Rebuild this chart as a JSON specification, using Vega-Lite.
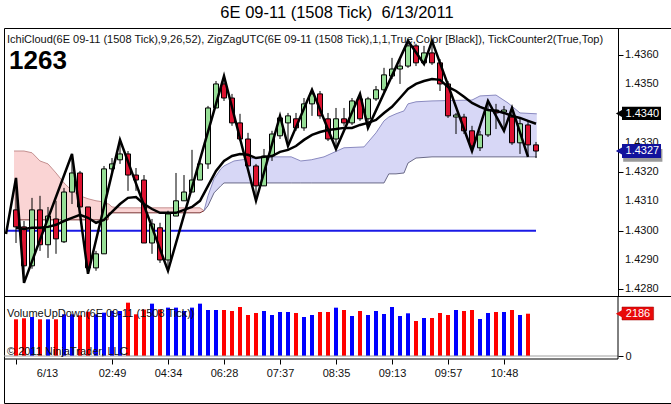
{
  "$schema": "https://vega.github.io/schema/vega-lite/v6.json",
  "padding": {"left": 0, "top": 5, "right": 0, "bottom": 0},
  "background": "white",
  "title": {
    "text": "6E 09-11 (1508 Tick)\u00a0 6/13/2011",
    "fontSize": 16.5,
    "fontWeight": "normal",
    "font": "Liberation Sans",
    "color": "black",
    "anchor": "middle",
    "offset": 6
  },
  "config": {
    "view": {"stroke": "black", "strokeWidth": 1},
    "axis": {"labelFont": "Liberation Sans", "labelColor": "#111", "tickColor": "black", "domainColor": "black", "labelOverlap": false},
    "text": {"font": "Liberation Sans"}
  },
  "spacing": 0,
  "bounds": "flush",
  "resolve": {"scale": {"x": "independent", "y": "independent"}},
  "datasets": {
    "candles": [
      {"i": 0, "o": 1.43071, "h": 1.43180, "l": 1.42958, "c": 1.43013, "v": 1897, "t": 1.43010},
      {"i": 1, "o": 1.43013, "h": 1.43033, "l": 1.42822, "c": 1.42880, "v": 1950, "t": 1.43006},
      {"i": 2, "o": 1.42880, "h": 1.43112, "l": 1.42870, "c": 1.43071, "v": 2015, "t": 1.43010},
      {"i": 3, "o": 1.43071, "h": 1.43119, "l": 1.42931, "c": 1.42952, "v": 1897, "t": 1.43010},
      {"i": 4, "o": 1.42952, "h": 1.43081, "l": 1.42907, "c": 1.43050, "v": 1897, "t": 1.43013},
      {"i": 5, "o": 1.43040, "h": 1.43102, "l": 1.42921, "c": 1.42972, "v": 1897, "t": 1.43020},
      {"i": 6, "o": 1.42962, "h": 1.43146, "l": 1.42958, "c": 1.43132, "v": 2155, "t": 1.43033},
      {"i": 7, "o": 1.43132, "h": 1.43262, "l": 1.43091, "c": 1.43197, "v": 2155, "t": 1.43044},
      {"i": 8, "o": 1.43197, "h": 1.43204, "l": 1.43081, "c": 1.43081, "v": 2103, "t": 1.43054},
      {"i": 9, "o": 1.43081, "h": 1.43081, "l": 1.42853, "c": 1.42873, "v": 2290, "t": 1.43044},
      {"i": 10, "o": 1.42873, "h": 1.42931, "l": 1.42863, "c": 1.42921, "v": 2155, "t": 1.43027},
      {"i": 11, "o": 1.42921, "h": 1.43221, "l": 1.42921, "c": 1.43211, "v": 2240, "t": 1.43037},
      {"i": 12, "o": 1.43211, "h": 1.43248, "l": 1.43197, "c": 1.43228, "v": 2326, "t": 1.43064},
      {"i": 13, "o": 1.43242, "h": 1.43310, "l": 1.43228, "c": 1.43262, "v": 2326, "t": 1.43091},
      {"i": 14, "o": 1.43262, "h": 1.43272, "l": 1.43136, "c": 1.43190, "v": 2756, "t": 1.43112},
      {"i": 15, "o": 1.43190, "h": 1.43214, "l": 1.43136, "c": 1.43173, "v": 2155, "t": 1.43115},
      {"i": 16, "o": 1.43173, "h": 1.43190, "l": 1.42958, "c": 1.42958, "v": 2400, "t": 1.43091},
      {"i": 17, "o": 1.42958, "h": 1.43040, "l": 1.42921, "c": 1.43023, "v": 2705, "t": 1.43074},
      {"i": 18, "o": 1.43010, "h": 1.43027, "l": 1.42890, "c": 1.42900, "v": 2410, "t": 1.43061},
      {"i": 19, "o": 1.42900, "h": 1.43068, "l": 1.42863, "c": 1.43057, "v": 2500, "t": 1.43061},
      {"i": 20, "o": 1.43050, "h": 1.43197, "l": 1.43050, "c": 1.43102, "v": 2500, "t": 1.43061},
      {"i": 21, "o": 1.43102, "h": 1.43190, "l": 1.43102, "c": 1.43132, "v": 2326, "t": 1.43071},
      {"i": 22, "o": 1.43132, "h": 1.43276, "l": 1.43132, "c": 1.43173, "v": 2500, "t": 1.43081},
      {"i": 23, "o": 1.43173, "h": 1.43248, "l": 1.43173, "c": 1.43228, "v": 2705, "t": 1.43102},
      {"i": 24, "o": 1.43228, "h": 1.43426, "l": 1.43211, "c": 1.43419, "v": 2378, "t": 1.43153},
      {"i": 25, "o": 1.43419, "h": 1.43511, "l": 1.43419, "c": 1.43501, "v": 2378, "t": 1.43204},
      {"i": 26, "o": 1.43501, "h": 1.43528, "l": 1.43443, "c": 1.43453, "v": 2378, "t": 1.43238},
      {"i": 27, "o": 1.43453, "h": 1.43467, "l": 1.43358, "c": 1.43368, "v": 2326, "t": 1.43255},
      {"i": 28, "o": 1.43368, "h": 1.43399, "l": 1.43306, "c": 1.43313, "v": 2533, "t": 1.43262},
      {"i": 29, "o": 1.43313, "h": 1.43334, "l": 1.43221, "c": 1.43221, "v": 2120, "t": 1.43259},
      {"i": 30, "o": 1.43221, "h": 1.43228, "l": 1.43102, "c": 1.43153, "v": 2223, "t": 1.43248},
      {"i": 31, "o": 1.43153, "h": 1.43279, "l": 1.43153, "c": 1.43255, "v": 2326, "t": 1.43252},
      {"i": 32, "o": 1.43255, "h": 1.43341, "l": 1.43238, "c": 1.43330, "v": 2120, "t": 1.43255},
      {"i": 33, "o": 1.43324, "h": 1.43392, "l": 1.43313, "c": 1.43385, "v": 2275, "t": 1.43269},
      {"i": 34, "o": 1.43368, "h": 1.43402, "l": 1.43289, "c": 1.43392, "v": 2275, "t": 1.43276},
      {"i": 35, "o": 1.43382, "h": 1.43402, "l": 1.43341, "c": 1.43351, "v": 2223, "t": 1.43289},
      {"i": 36, "o": 1.43351, "h": 1.43453, "l": 1.43341, "c": 1.43433, "v": 2017, "t": 1.43310},
      {"i": 37, "o": 1.43433, "h": 1.43481, "l": 1.43392, "c": 1.43467, "v": 2120, "t": 1.43327},
      {"i": 38, "o": 1.43467, "h": 1.43477, "l": 1.43382, "c": 1.43392, "v": 2275, "t": 1.43337},
      {"i": 39, "o": 1.43382, "h": 1.43402, "l": 1.43306, "c": 1.43313, "v": 2275, "t": 1.43344},
      {"i": 40, "o": 1.43313, "h": 1.43419, "l": 1.43279, "c": 1.43382, "v": 2498, "t": 1.43347},
      {"i": 41, "o": 1.43382, "h": 1.43419, "l": 1.43358, "c": 1.43368, "v": 2378, "t": 1.43351},
      {"i": 42, "o": 1.43368, "h": 1.43453, "l": 1.43361, "c": 1.43443, "v": 2068, "t": 1.43351},
      {"i": 43, "o": 1.43450, "h": 1.43467, "l": 1.43375, "c": 1.43382, "v": 2326, "t": 1.43361},
      {"i": 44, "o": 1.43382, "h": 1.43457, "l": 1.43351, "c": 1.43450, "v": 2120, "t": 1.43368},
      {"i": 45, "o": 1.43450, "h": 1.43494, "l": 1.43443, "c": 1.43481, "v": 2326, "t": 1.43378},
      {"i": 46, "o": 1.43481, "h": 1.43556, "l": 1.43470, "c": 1.43532, "v": 2171, "t": 1.43402},
      {"i": 47, "o": 1.43528, "h": 1.43590, "l": 1.43518, "c": 1.43552, "v": 2533, "t": 1.43423},
      {"i": 48, "o": 1.43552, "h": 1.43590, "l": 1.43501, "c": 1.43562, "v": 2068, "t": 1.43453},
      {"i": 49, "o": 1.43562, "h": 1.43648, "l": 1.43556, "c": 1.43631, "v": 2206, "t": 1.43484},
      {"i": 50, "o": 1.43631, "h": 1.43638, "l": 1.43562, "c": 1.43573, "v": 1810, "t": 1.43501},
      {"i": 51, "o": 1.43573, "h": 1.43631, "l": 1.43569, "c": 1.43607, "v": 1965, "t": 1.43511},
      {"i": 52, "o": 1.43607, "h": 1.43648, "l": 1.43566, "c": 1.43573, "v": 1965, "t": 1.43518},
      {"i": 53, "o": 1.43573, "h": 1.43586, "l": 1.43477, "c": 1.43501, "v": 2223, "t": 1.43515},
      {"i": 54, "o": 1.43501, "h": 1.43511, "l": 1.43385, "c": 1.43392, "v": 2120, "t": 1.43491},
      {"i": 55, "o": 1.43388, "h": 1.43402, "l": 1.43330, "c": 1.43395, "v": 2378, "t": 1.43477},
      {"i": 56, "o": 1.43388, "h": 1.43399, "l": 1.43330, "c": 1.43341, "v": 2326, "t": 1.43457},
      {"i": 57, "o": 1.43341, "h": 1.43358, "l": 1.43272, "c": 1.43289, "v": 2378, "t": 1.43436},
      {"i": 58, "o": 1.43283, "h": 1.43341, "l": 1.43272, "c": 1.43327, "v": 1913, "t": 1.43423},
      {"i": 59, "o": 1.43327, "h": 1.43443, "l": 1.43320, "c": 1.43412, "v": 2223, "t": 1.43412},
      {"i": 60, "o": 1.43412, "h": 1.43433, "l": 1.43347, "c": 1.43402, "v": 2275, "t": 1.43409},
      {"i": 61, "o": 1.43405, "h": 1.43426, "l": 1.43341, "c": 1.43412, "v": 2275, "t": 1.43402},
      {"i": 62, "o": 1.43388, "h": 1.43419, "l": 1.43293, "c": 1.43300, "v": 2378, "t": 1.43392},
      {"i": 63, "o": 1.43300, "h": 1.43385, "l": 1.43262, "c": 1.43365, "v": 2120, "t": 1.43385},
      {"i": 64, "o": 1.43361, "h": 1.43375, "l": 1.43252, "c": 1.43293, "v": 2186, "t": 1.43375},
      {"i": 65, "o": 1.43293, "h": 1.43303, "l": 1.43248, "c": 1.43272, "v": null, "t": 1.43365}
    ],
    "zigzag": [
      {"i": -1.25, "p": 1.42989},
      {"i": 0, "p": 1.43180},
      {"i": 1, "p": 1.42822},
      {"i": 7, "p": 1.43262},
      {"i": 9, "p": 1.42853},
      {"i": 13, "p": 1.43310},
      {"i": 19, "p": 1.42863},
      {"i": 26, "p": 1.43528},
      {"i": 30, "p": 1.43102},
      {"i": 33, "p": 1.43392},
      {"i": 34, "p": 1.43289},
      {"i": 37, "p": 1.43481},
      {"i": 40, "p": 1.43279},
      {"i": 43, "p": 1.43467},
      {"i": 44, "p": 1.43351},
      {"i": 49, "p": 1.43648},
      {"i": 51, "p": 1.43569},
      {"i": 52, "p": 1.43648},
      {"i": 57, "p": 1.43272},
      {"i": 59, "p": 1.43443},
      {"i": 61, "p": 1.43341},
      {"i": 62, "p": 1.43419},
      {"i": 64, "p": 1.43252}
    ],
    "pink": [
      {"i": -0.25, "a": 1.43272, "b": 1.43037},
      {"i": 1, "a": 1.43272, "b": 1.43037},
      {"i": 2, "a": 1.43266, "b": 1.43037},
      {"i": 3, "a": 1.43238, "b": 1.43037},
      {"i": 4, "a": 1.43228, "b": 1.43037},
      {"i": 5, "a": 1.43197, "b": 1.43037},
      {"i": 6, "a": 1.43163, "b": 1.43037},
      {"i": 7, "a": 1.43136, "b": 1.43037},
      {"i": 8, "a": 1.43119, "b": 1.43037},
      {"i": 9, "a": 1.43109, "b": 1.43037},
      {"i": 10, "a": 1.43102, "b": 1.43037},
      {"i": 11, "a": 1.43098, "b": 1.43037},
      {"i": 11.5, "a": 1.43091, "b": 1.43037},
      {"i": 11.6, "a": 1.43091, "b": 1.43061},
      {"i": 12, "a": 1.43081, "b": 1.43061},
      {"i": 13, "a": 1.43078, "b": 1.43061},
      {"i": 23, "a": 1.43078, "b": 1.43061},
      {"i": 23.5, "a": 1.43068, "b": 1.43068}
    ],
    "lavender": [
      {"i": 23.5, "a": 1.43068, "b": 1.43068},
      {"i": 24, "a": 1.43119, "b": 1.43085},
      {"i": 24.75, "a": 1.43177, "b": 1.43129},
      {"i": 25.6, "a": 1.43211, "b": 1.43153},
      {"i": 26, "a": 1.43221, "b": 1.43163},
      {"i": 27.25, "a": 1.43238, "b": 1.43163},
      {"i": 29.75, "a": 1.43248, "b": 1.43163},
      {"i": 31, "a": 1.43252, "b": 1.43163},
      {"i": 34.4, "a": 1.43252, "b": 1.43163},
      {"i": 35.6, "a": 1.43238, "b": 1.43163},
      {"i": 36.9, "a": 1.43242, "b": 1.43163},
      {"i": 38.5, "a": 1.43252, "b": 1.43163},
      {"i": 41, "a": 1.43283, "b": 1.43163},
      {"i": 43.5, "a": 1.43286, "b": 1.43163},
      {"i": 45, "a": 1.43334, "b": 1.43163},
      {"i": 46, "a": 1.43375, "b": 1.43163},
      {"i": 46.6, "a": 1.43388, "b": 1.43194},
      {"i": 47.5, "a": 1.43399, "b": 1.43194},
      {"i": 48.5, "a": 1.43409, "b": 1.43197},
      {"i": 49, "a": 1.43433, "b": 1.43231},
      {"i": 50, "a": 1.43440, "b": 1.43248},
      {"i": 52, "a": 1.43443, "b": 1.43252},
      {"i": 57, "a": 1.43446, "b": 1.43252},
      {"i": 58, "a": 1.43460, "b": 1.43252},
      {"i": 60, "a": 1.43463, "b": 1.43252},
      {"i": 61.5, "a": 1.43436, "b": 1.43252},
      {"i": 63, "a": 1.43402, "b": 1.43252},
      {"i": 65.1, "a": 1.43399, "b": 1.43252}
    ],
    "priceTicks": [
      {"p": 1.428, "label": "1.4280"},
      {"p": 1.429, "label": "1.4290"},
      {"p": 1.430, "label": "1.4300"},
      {"p": 1.431, "label": "1.4310"},
      {"p": 1.432, "label": "1.4320"},
      {"p": 1.433, "label": "1.4330"},
      {"p": 1.435, "label": "1.4350"},
      {"p": 1.436, "label": "1.4360"}
    ]
  },
  "vconcat": [
    {
      "width": 669,
      "height": 268,
      "layer": [
        {
          "data": {"name": "pink"},
          "mark": {"type": "area", "color": "#fad4d4", "orient": "vertical"},
          "encoding": {
            "x": {"field": "i", "type": "quantitative", "scale": {"domain": [-0.875, 81.5], "nice": false, "zero": false}, "axis": null},
            "y": {
              "field": "a", "type": "quantitative",
              "scale": {"domain": [1.42777, 1.43692], "nice": false, "zero": false},
              "axis": {
                "orient": "right", "offset": -55, "title": null, "grid": false, "labels": false,
                "values": [1.428, 1.429, 1.43, 1.431, 1.432, 1.433, 1.434, 1.435, 1.436],
                "tickSize": 5
              }
            },
            "y2": {"field": "b"}
          }
        },
        {
          "data": {"name": "lavender"},
          "mark": {"type": "area", "color": "#d7d7f6", "orient": "vertical"},
          "encoding": {
            "x": {"field": "i", "type": "quantitative"},
            "y": {"field": "a", "type": "quantitative"},
            "y2": {"field": "b"}
          }
        },
        {
          "data": {"name": "pink"},
          "mark": {"type": "line", "color": "#c49090", "strokeWidth": 1},
          "encoding": {"x": {"field": "i", "type": "quantitative"}, "y": {"field": "a", "type": "quantitative"}}
        },
        {
          "data": {"name": "pink"},
          "mark": {"type": "line", "color": "#7a3434", "strokeWidth": 1},
          "encoding": {"x": {"field": "i", "type": "quantitative"}, "y": {"field": "b", "type": "quantitative"}}
        },
        {
          "data": {"name": "lavender"},
          "mark": {"type": "line", "color": "#8a8ac0", "strokeWidth": 1},
          "encoding": {"x": {"field": "i", "type": "quantitative"}, "y": {"field": "a", "type": "quantitative"}}
        },
        {
          "data": {"name": "lavender"},
          "mark": {"type": "line", "color": "#6a6a88", "strokeWidth": 1},
          "encoding": {"x": {"field": "i", "type": "quantitative"}, "y": {"field": "b", "type": "quantitative"}}
        },
        {
          "data": {"values": [{"level": 1.43, "from": -1.25, "to": 65}]},
          "mark": {"type": "rule", "color": "#1a1ae6", "strokeWidth": 2},
          "encoding": {
            "x": {"field": "from", "type": "quantitative"},
            "x2": {"field": "to"},
            "y": {"field": "level", "type": "quantitative"}
          }
        },
        {
          "data": {"name": "candles"},
          "mark": {"type": "rule", "color": "black", "strokeWidth": 1},
          "encoding": {
            "x": {"field": "i", "type": "quantitative"},
            "y": {"field": "l", "type": "quantitative"},
            "y2": {"field": "h"}
          }
        },
        {
          "data": {"name": "candles"},
          "mark": {"type": "bar", "size": 5, "stroke": "black", "strokeWidth": 1},
          "encoding": {
            "x": {"field": "i", "type": "quantitative"},
            "y": {"field": "o", "type": "quantitative"},
            "y2": {"field": "c"},
            "fill": {"condition": {"test": "datum.c >= datum.o", "value": "#96de96"}, "value": "#dc1230"}
          }
        },
        {
          "data": {"name": "candles"},
          "mark": {"type": "line", "color": "black", "strokeWidth": 2.5},
          "encoding": {"x": {"field": "i", "type": "quantitative"}, "y": {"field": "t", "type": "quantitative"}}
        },
        {
          "data": {"name": "zigzag"},
          "mark": {"type": "line", "color": "black", "strokeWidth": 2.5, "strokeMiterLimit": 4},
          "encoding": {"x": {"field": "i", "type": "quantitative"}, "y": {"field": "p", "type": "quantitative"}}
        },
        {
          "data": {"values": [{"label": "IchiCloud(6E 09-11 (1508 Tick),9,26,52), ZigZagUTC(6E 09-11 (1508 Tick),1,1,True,Color [Black]), TickCounter2(True,Top)"}]},
          "mark": {"type": "text", "align": "left", "baseline": "alphabetic", "fontSize": 11, "color": "#111", "limit": 603, "ellipsis": ""},
          "encoding": {"x": {"datum": -1.125}, "y": {"datum": 1.43641}, "text": {"field": "label"}}
        },
        {
          "data": {"values": [{"label": "1263"}]},
          "mark": {"type": "text", "align": "left", "baseline": "alphabetic", "fontSize": 26, "fontWeight": "bold", "color": "black"},
          "encoding": {"x": {"datum": -0.875}, "y": {"datum": 1.43552}, "text": {"field": "label"}}
        },
        {
          "data": {"name": "priceTicks"},
          "mark": {"type": "text", "align": "left", "baseline": "middle", "fontSize": 11, "color": "#111"},
          "encoding": {"x": {"datum": 76.125}, "y": {"field": "p", "type": "quantitative"}, "text": {"field": "label"}}
        },
        {
          "data": {"values": [{"lo": 1.43235, "hi": 1.43279}]},
          "mark": {"type": "rect", "fill": "#9a9a9a"},
          "encoding": {"x": {"datum": 75.9}, "x2": {"datum": 80.8}, "y": {"field": "lo", "type": "quantitative"}, "y2": {"field": "hi"}}
        },
        {
          "data": {"values": [{"p": 1.434, "lo": 1.43378, "hi": 1.43423, "label": "1.4340", "fill": "black"}, {"p": 1.43272, "lo": 1.43248, "hi": 1.43296, "label": "1.4327", "fill": "#12129c"}]},
          "layer": [
            {
              "mark": {"type": "rect"},
              "encoding": {
                "x": {"datum": 75.75}, "x2": {"datum": 80.625},
                "y": {"field": "lo", "type": "quantitative"}, "y2": {"field": "hi"},
                "fill": {"field": "fill", "type": "nominal", "scale": null}
              }
            },
            {
              "mark": {"type": "point", "shape": "triangle-left", "filled": true, "size": 110, "opacity": 1},
              "encoding": {
                "x": {"datum": 75.55},
                "y": {"field": "p", "type": "quantitative"},
                "fill": {"field": "fill", "type": "nominal", "scale": null}
              }
            },
            {
              "mark": {"type": "text", "align": "center", "baseline": "middle", "fontSize": 11, "color": "white"},
              "encoding": {"x": {"datum": 78.3}, "y": {"field": "p", "type": "quantitative"}, "text": {"field": "label"}}
            }
          ]
        }
      ]
    },
    {
      "width": 669,
      "height": 107,
      "layer": [
        {
          "data": {"name": "candles"},
          "transform": [{"filter": "isValid(datum.v)"}],
          "mark": {"type": "bar", "size": 4},
          "encoding": {
            "x": {
              "field": "i", "type": "quantitative",
              "scale": {"domain": [-0.875, 81.5], "nice": false, "zero": false},
              "axis": {
                "orient": "bottom", "offset": -44, "title": null, "grid": false, "domain": false,
                "values": [0, 12, 19, 26, 33, 40, 47, 54, 61],
                "labelExpr": "['6/13','02:49','04:34','06:28','07:37','08:35','09:13','09:57','10:48'][indexof([0,12,19,26,33,40,47,54,61], datum.value)]",
                "labelOffset": {"condition": {"test": "datum.value == 0", "value": 31}, "value": 0},
                "tickSize": 5, "labelPadding": 3, "labelFontSize": 11, "labelFlush": false
              }
            },
            "y": {
              "field": "v", "type": "quantitative",
              "scale": {"domain": [-2429, 3101], "nice": false, "zero": false},
              "axis": {
                "orient": "right", "offset": -55, "title": null, "grid": false, "domain": false,
                "values": [0], "tickSize": 5, "labelFontSize": 11, "labelPadding": 2
              }
            },
            "y2": {"datum": 0},
            "color": {"condition": {"test": "datum.c >= datum.o", "value": "#0000ff"}, "value": "#ff0000"}
          }
        },
        {
          "data": {"values": [{}]},
          "mark": {"type": "rule", "color": "#a0a0a0", "strokeWidth": 1},
          "encoding": {"x": {"datum": -1.5}, "x2": {"datum": 75.25}, "y": {"datum": 0}}
        },
        {
          "data": {"values": [{}]},
          "mark": {"type": "rule", "color": "black", "strokeWidth": 1},
          "encoding": {"x": {"datum": -1.5}, "x2": {"datum": 75.25}, "y": {"datum": -155}}
        },
        {
          "data": {"values": [{}]},
          "mark": {"type": "rule", "color": "black", "strokeWidth": 1},
          "encoding": {"x": {"datum": 75.25}, "y": {"datum": -155}, "y2": {"datum": 3101}}
        },
        {
          "data": {"values": [{"label": "VolumeUpDown(6E 09-11 (1508 Tick))"}]},
          "mark": {"type": "text", "align": "left", "baseline": "alphabetic", "fontSize": 11, "color": "#111"},
          "encoding": {"x": {"datum": -1.125}, "y": {"datum": 2016}, "text": {"field": "label"}}
        },
        {
          "data": {"values": [{"label": "© 2011 NinjaTrader, LLC"}]},
          "mark": {"type": "text", "align": "left", "baseline": "alphabetic", "fontSize": 11, "color": "#111"},
          "encoding": {"x": {"datum": -1.125}, "y": {"datum": 52}, "text": {"field": "label"}}
        },
        {
          "data": {"values": [{"v": 2186, "lo": 1860, "hi": 2532, "label": "2186"}]},
          "layer": [
            {
              "mark": {"type": "rect", "fill": "#e80a0a", "stroke": "#900", "strokeWidth": 0.5},
              "encoding": {"x": {"datum": 75.75}, "x2": {"datum": 79.7}, "y": {"field": "lo", "type": "quantitative"}, "y2": {"field": "hi"}}
            },
            {
              "mark": {"type": "point", "shape": "triangle-left", "filled": true, "size": 110, "color": "#e80a0a", "opacity": 1},
              "encoding": {"x": {"datum": 75.55}, "y": {"field": "v", "type": "quantitative"}}
            },
            {
              "mark": {"type": "text", "align": "center", "baseline": "middle", "fontSize": 11, "color": "white"},
              "encoding": {"x": {"datum": 77.75}, "y": {"field": "v", "type": "quantitative"}, "text": {"field": "label"}}
            }
          ]
        }
      ]
    }
  ]
}
